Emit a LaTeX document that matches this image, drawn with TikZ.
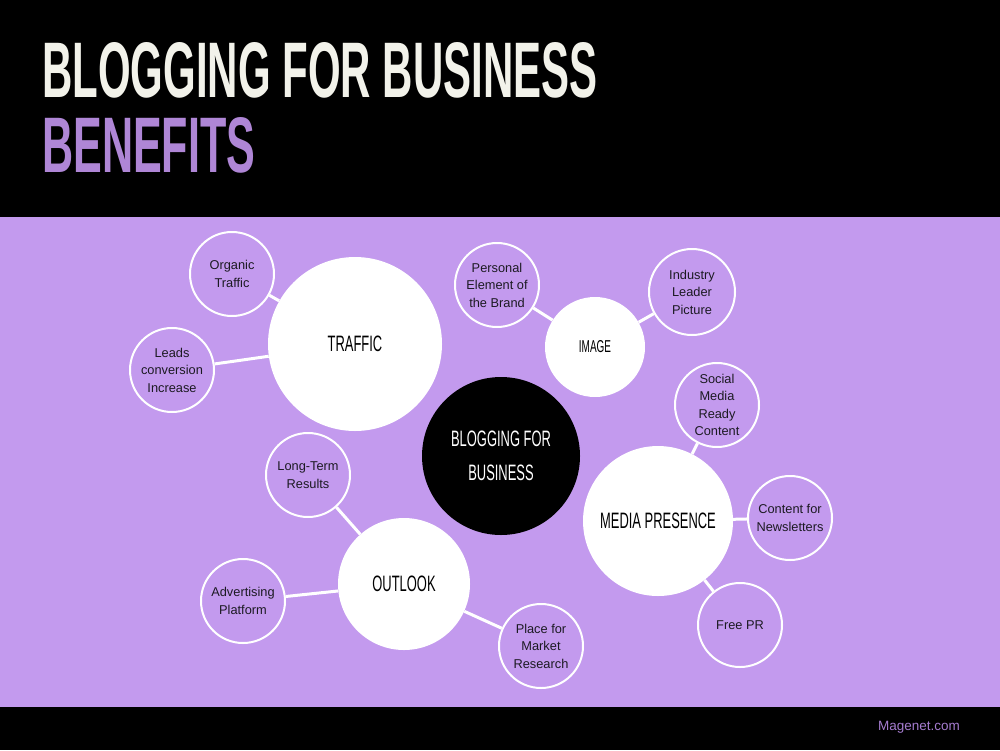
\documentclass[tikz,border=0pt]{standalone}
\usepackage{graphicx}
\usepackage{fontspec}
\setmainfont{Liberation Sans}
\definecolor{lilac}{HTML}{C39AEE}
\definecolor{titlewhite}{HTML}{F2F2EA}
\definecolor{titlepurple}{HTML}{AF86D6}
\definecolor{footpurple}{HTML}{A57CCF}
\definecolor{ink}{HTML}{1C1A22}
\newcommand{\narrowcap}[1]{\scalebox{0.58}[1]{#1}}

\begin{document}
\begin{tikzpicture}[x=1pt,y=-1pt,
    bigbub/.style={circle, fill=white, inner sep=0pt, text=black,
      font=\fontsize{22.3}{34}\selectfont, align=center},
    smallbub/.style={circle, draw=white, line width=2pt, inner sep=0pt,
      minimum size=84pt, text=ink, font=\fontsize{12.8}{17.5}\selectfont, align=center},
    link/.style={draw=white, line width=3pt}]
        \useasboundingbox (0,0) rectangle (1000,750);
        \fill[black] (0,0) rectangle (1000,750);
        \fill[lilac] (0,217) rectangle (1000,707);
        \node[anchor=base west, inner sep=0pt, text=titlewhite] (title) at (42,97) {\resizebox{555pt}{55pt}{\bfseries BLOGGING FOR BUSINESS}};
        \node[anchor=base west, inner sep=0pt, text=titlepurple] (benefits) at (42,172) {\resizebox{213pt}{55pt}{\bfseries BENEFITS}};
        \node[text=footpurple, font=\fontsize{13.5}{16}\selectfont] (site) at (919,727) {Magenet.com};
        \node[bigbub, fill=black, text=white, minimum size=158pt] (hub) at (501,456) {\narrowcap{BLOGGING FOR}\\\narrowcap{BUSINESS}};
        \node[bigbub, minimum size=174pt] (traffic) at (355,344) {\narrowcap{TRAFFIC}};
        \node[bigbub, minimum size=100pt, font=\fontsize{17.2}{20}\selectfont] (image) at (595,347) {\narrowcap{IMAGE}};
        \node[bigbub, minimum size=150pt] (media) at (658,521) {\narrowcap{MEDIA PRESENCE}};
        \node[bigbub, minimum size=132pt] (outlook) at (404,584) {\narrowcap{OUTLOOK}};
        \node[smallbub] (organic) at (232,274) {Organic\\Traffic};
        \node[smallbub] (leads) at (172,370) {Leads\\conversion\\Increase};
        \node[smallbub] (personal) at (497,285) {Personal\\Element of\\the Brand};
        \node[smallbub, minimum size=86pt] (industry) at (692,292) {Industry\\Leader\\Picture};
        \node[smallbub] (social) at (717,405) {Social\\Media\\Ready\\Content};
        \node[smallbub] (newsletter) at (790,518) {Content for\\Newsletters};
        \node[smallbub] (freepr) at (740,625) {Free PR};
        \node[smallbub] (longterm) at (308,475) {Long-Term\\Results};
        \node[smallbub] (advert) at (243,601) {Advertising\\Platform};
        \node[smallbub] (market) at (541,646) {Place for\\Market\\Research};
        \draw[link] (organic) -- (traffic);
        \draw[link] (leads) -- (traffic);
        \draw[link] (personal) -- (image);
        \draw[link] (industry) -- (image);
        \draw[link] (social) -- (media);
        \draw[link] (newsletter) -- (media);
        \draw[link] (freepr) -- (media);
        \draw[link] (longterm) -- (outlook);
        \draw[link] (advert) -- (outlook);
        \draw[link] (market) -- (outlook);
    \end{tikzpicture}
\end{document}
